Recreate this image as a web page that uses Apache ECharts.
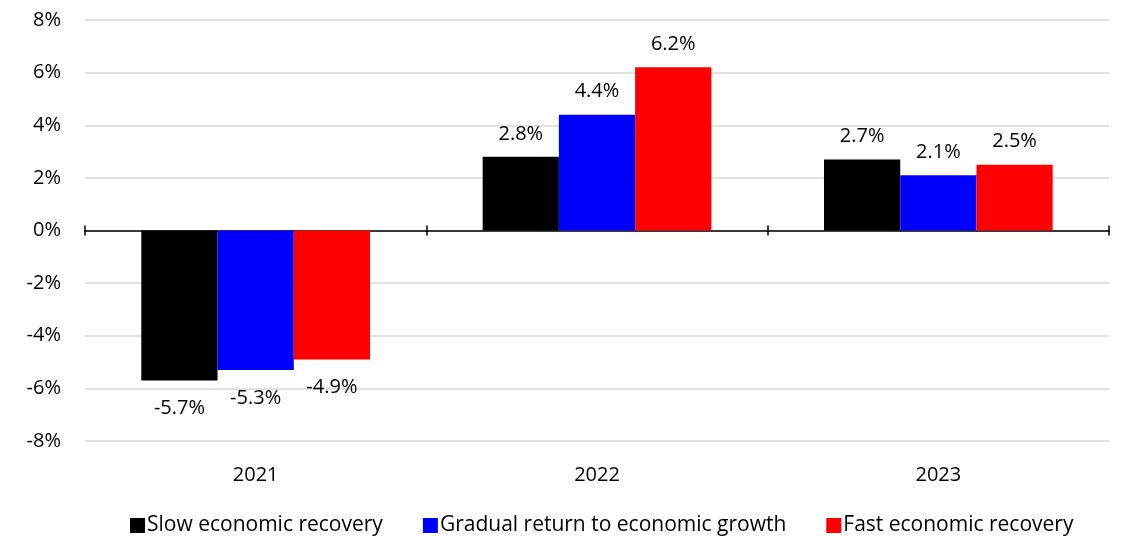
<!DOCTYPE html>
<html><head><meta charset="utf-8">
<script src="https://cdn.jsdelivr.net/npm/echarts@6/dist/echarts.min.js"></script>
<style>html,body{margin:0;padding:0;background:#fff}#c{width:1123px;height:536px}</style>
</head><body><div id="c"></div>
<script>
const categories = ['2021', '2022', '2023'];
const seriesNames = ['Slow economic recovery', 'Gradual return to economic growth', 'Fast economic recovery'];
const slowRecovery = [-5.7, 2.8, 2.7];
const gradualReturn = [-5.3, 4.4, 2.1];
const fastRecovery = [-4.9, 6.2, 2.5];
const colors = ['#000000', '#0000ff', '#ff0000'];
const FONT = '"Open Sans", Lato, sans-serif';
const FS = 20;

const chart = echarts.init(document.getElementById('c'));
function mk(name, data, color) {
  return {
    name, type: 'bar', xAxisIndex: 0,
    barGap: '0%', barCategoryGap: '33%',
    itemStyle: { color },
    label: {
      show: true, color: '#000', fontFamily: FONT, fontSize: FS,
      formatter: p => p.value.toFixed(1) + '%'
    },
    data: data.map(v => ({ value: v, label: { position: v < 0 ? 'bottom' : 'top', distance: v < 0 ? 18 : 13 } }))
  };
}
const series = [
  mk(seriesNames[0], slowRecovery, colors[0]),
  mk(seriesNames[1], gradualReturn, colors[1]),
  mk(seriesNames[2], fastRecovery, colors[2])
];
chart.setOption({
  animation: false,
  textStyle: { fontFamily: FONT },
  grid: { left: 85, right: 14, top: 20, bottom: 95 },
  legend: {
    top: 510, left: 125, itemWidth: 15, itemHeight: 15, itemGap: 40,
    icon: 'rect',
    textStyle: { fontFamily: FONT, fontSize: 21, color: '#000', padding: [0, 0, 0, -3] },
    data: seriesNames
  },
  xAxis: [
    { type: 'category', data: categories, position: 'bottom',
      axisLine: { show: false, onZero: false }, axisTick: { show: false },
      axisLabel: { color: '#000', fontSize: FS, fontFamily: FONT, margin: 24 } },
    { type: 'category', data: categories, position: 'top',
      axisLine: { show: true, onZero: true, lineStyle: { color: '#000', width: 1.5 } },
      axisTick: { show: true, length: 5, lineStyle: { color: '#000', width: 1.5 } },
      axisLabel: { show: false } },
    { type: 'category', data: categories, position: 'bottom', offset: -210.5,
      axisLine: { show: false, onZero: false },
      axisTick: { show: true, length: 5, lineStyle: { color: '#000', width: 1.5 } },
      axisLabel: { show: false } }
  ],
  yAxis: {
    type: 'value', min: -8, max: 8, interval: 2,
    axisLine: { show: false }, axisTick: { show: false },
    axisLabel: { color: '#000', fontSize: FS, fontFamily: FONT, margin: 24, formatter: v => v + '%' },
    splitLine: { lineStyle: { color: '#d9d9d9', width: 1.5 } }
  },
  series
});
</script></body></html>
